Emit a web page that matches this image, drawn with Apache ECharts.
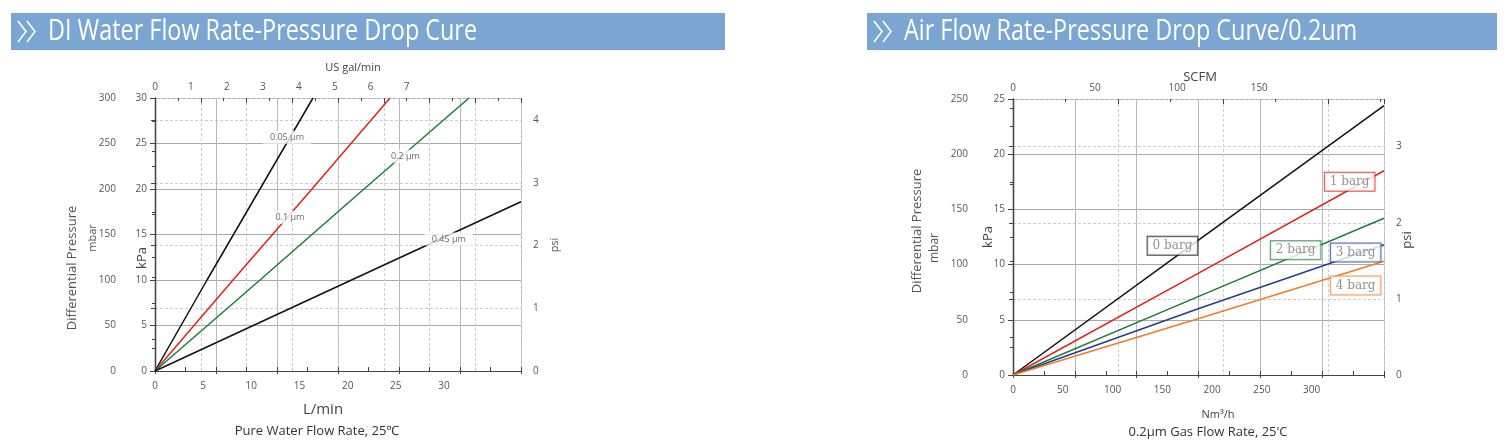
<!DOCTYPE html>
<html>
<head>
<meta charset="utf-8">
<title>Flow rate - pressure drop curves</title>
<script src="https://cdn.jsdelivr.net/npm/echarts@6/dist/echarts.min.js"></script>
<style>
  html, body { margin: 0; padding: 0; background: #fff; }
  #chart { width: 1507px; height: 442px; }
</style>
</head>
<body>
<div id="chart"></div>
<script>
// ---- DI water: pressure drop (kPa) against flow (L/min), per pore size ----
const water005 = [[0, 0], [5.4, 10], [10.9, 20], [16.4, 30]];
const water01 = [[0, 0], [8.1, 10], [16.3, 20], [24.4, 30]];
const water02 = [[0, 0], [10.9, 10], [21.7, 20], [32.6, 30]];
const water045 = [[0, 0], [20.4, 10], [38, 18.6]];
const waterNames = ['0.05 µm', '0.1 µm', '0.2 µm', '0.45 µm'];

// ---- air, 0.2 µm: pressure drop (kPa) against flow (Nm3/h), per inlet pressure ----
const air0 = [[0, 0], [186, 12.2], [372.7, 24.4]];
const air1 = [[0, 0], [186, 9.2], [372.7, 18.5]];
const air2 = [[0, 0], [186, 7.1], [372.7, 14.2]];
const air3 = [[0, 0], [186, 6.0], [372.7, 11.8]];
const air4 = [[0, 0], [186, 5.1], [372.7, 10.3]];
const airNames = ['0 barg', '1 barg', '2 barg', '3 barg', '4 barg'];

// axis ranges as printed
const waterLpmMax = 38;     // L/min at right edge
const waterGpmMax = 10.18;  // same edge in US gal/min
const waterKpaMax = 30;
const airNm3Max = 372.7;    // Nm3/h at right edge
const airScfmMax = 226;     // same edge in SCFM
const airKpaMax = 25;
const KPA_PER_PSI = 6.895;

const FONT = "'Open Sans', 'Noto Sans', sans-serif";
const INK = '#444';
const TICK_TEXT = { color: '#555', fontSize: 10, fontFamily: FONT };
const frameLine = { show: true, lineStyle: { color: INK, width: 1.2 } };
const tickStyle = { color: INK, width: 1 };

// only whole numbers up to `last` get a label (hides the odd end value)
const intOnly = last => v => (Number.isInteger(v) && v <= last ? String(v) : '');

function plainAxis(extra) {
  return Object.assign({
    type: 'value', min: 0, interval: 1,
    axisLine: { show: false }, axisTick: { show: false },
    axisLabel: { show: false }, splitLine: { show: false }
  }, extra);
}

function xAxes(g, o) {
  return [
    plainAxis({ gridIndex: g, position: 'bottom', max: o.bottomMax, interval: o.bottomStep,
      axisLine: frameLine,
      axisLabel: { ...TICK_TEXT, margin: 10, formatter: intOnly(o.bottomLast) } }),
    plainAxis({ gridIndex: g, position: 'top', max: o.topMax, interval: o.topStep,
      axisLine: frameLine,
      axisLabel: { ...TICK_TEXT, margin: 6, formatter: intOnly(o.topLast) } }),
    // small bottom ticks, twelve across
    plainAxis({ gridIndex: g, position: 'bottom', max: 12,
      axisTick: { show: true, inside: true, length: 4, lineStyle: tickStyle } }),
    // solid vertical grid, six across
    plainAxis({ gridIndex: g, position: 'bottom', max: 6,
      axisTick: { show: true, length: 3, lineStyle: tickStyle },
      splitLine: { show: true, lineStyle: { color: '#b8b8b8', width: 1 } } }),
    // dashed vertical grid
    plainAxis({ gridIndex: g, position: 'top', max: o.dashMax,
      axisTick: { show: true, inside: true, length: 5, lineStyle: tickStyle },
      splitLine: { show: true, lineStyle: { color: '#cdcdcd', type: [3, 2] } } }),
    plainAxis({ gridIndex: g, position: 'top', max: o.topTicks,
      axisTick: { show: true, inside: true, length: 3, lineStyle: tickStyle } })
  ];
}

function yAxes(g, o) {
  return [
    plainAxis({ gridIndex: g, position: 'left', max: o.kpaMax, interval: 5,
      axisLine: frameLine,
      axisTick: { show: true, length: 5, lineStyle: tickStyle },
      minorTick: { show: true, splitNumber: 2, length: 3, lineStyle: tickStyle },
      axisLabel: { ...TICK_TEXT, margin: 8, formatter: intOnly(o.kpaMax) },
      splitLine: { show: true, lineStyle: { color: '#aaa', width: 1 } } }),
    plainAxis({ gridIndex: g, position: 'left', offset: o.mbarOffset, max: o.kpaMax * 10, interval: 50,
      axisLine: frameLine,
      axisTick: { show: true, length: 4, lineStyle: tickStyle },
      minorTick: { show: true, splitNumber: 2, length: 3, lineStyle: tickStyle },
      axisLabel: { ...TICK_TEXT, margin: 9, formatter: intOnly(1000) } }),
    plainAxis({ gridIndex: g, position: 'right', max: o.kpaMax / KPA_PER_PSI, interval: 1,
      axisLine: frameLine,
      axisTick: { show: true, inside: true, length: 4, lineStyle: tickStyle },
      minorTick: { show: true, splitNumber: 2, length: 3, lineStyle: tickStyle },
      axisLabel: { ...TICK_TEXT, margin: 12, formatter: intOnly(10) },
      splitLine: { show: true, lineStyle: { color: '#cdcdcd', type: [3, 2] } } })
  ];
}

function curve(name, data, color, xi, yi) {
  return {
    type: 'line', name, data, xAxisIndex: xi, yAxisIndex: yi,
    showSymbol: false, symbol: 'none', silent: true, z: 3,
    lineStyle: { color, width: 1.5 }
  };
}

function text(str, x, y, size, extra, fill) {
  return Object.assign({
    type: 'text', x, y, silent: true,
    style: { text: str, fill: fill || '#444', font: size + 'px ' + FONT, align: 'center', verticalAlign: 'middle' }
  }, extra);
}
const upright = { rotation: Math.PI / 2 };

function header(x, w, title) {
  const chev = (dx) => ({
    type: 'polyline', silent: true,
    shape: { points: [[x + 7 + dx, 21], [x + 15 + dx, 31.5], [x + 7 + dx, 42]] },
    style: { stroke: '#fff', lineWidth: 1.6, fill: null }
  });
  return [
    { type: 'rect', silent: true, shape: { x, y: 13, width: w, height: 37 }, style: { fill: '#7ba6d2' } },
    chev(0), chev(9),
    { type: 'text', silent: true, x: x + 37, y: 31, scaleX: 0.78,
      style: { text: title, fill: '#fff', font: '30px ' + FONT, align: 'left', verticalAlign: 'middle' } }
  ];
}

const waterTagAt = [[13.7, 25.7], [14.0, 16.9], [26.0, 23.6], [30.5, 14.5]];
const airTagAt = [[160.2, 11.7], [338.2, 17.5], [283.9, 11.3], [344.2, 11.1], [344.2, 8.1]];
const waterColors = ['#111', '#e3211c', '#1d7d3a', '#111'];
const airColors = ['#111', '#e3211c', '#1d7d3a', '#223f8e', '#f07c28'];

const option = {
  animation: false,
  backgroundColor: '#fff',
  grid: [
    { left: 155, top: 98, width: 366, height: 273, containLabel: false, outerBoundsMode: 'none' },
    { left: 1013, top: 99, width: 371, height: 276, containLabel: false, outerBoundsMode: 'none' }
  ],
  xAxis: [
    ...xAxes(0, { bottomMax: waterLpmMax, bottomStep: 5, bottomLast: 30,
      topMax: waterGpmMax, topStep: 1, topLast: 7, dashMax: 8, topTicks: 16 }),
    ...xAxes(1, { bottomMax: airNm3Max, bottomStep: 50, bottomLast: 300,
      topMax: airScfmMax, topStep: 50, topLast: 150, dashMax: 3.53, topTicks: 7.07 })
  ],
  yAxis: [
    ...yAxes(0, { kpaMax: waterKpaMax, mbarOffset: 30 }),
    ...yAxes(1, { kpaMax: airKpaMax, mbarOffset: 36 })
  ],
  series: [
    curve(waterNames[0], water005, waterColors[0], 0, 0),
    curve(waterNames[1], water01, waterColors[1], 0, 0),
    curve(waterNames[2], water02, waterColors[2], 0, 0),
    curve(waterNames[3], water045, waterColors[3], 0, 0),
    {
      type: 'scatter', xAxisIndex: 0, yAxisIndex: 0, symbolSize: 1, z: 10, silent: true,
      itemStyle: { color: 'rgba(0,0,0,0)' },
      label: { show: true, position: 'inside', formatter: '{b}', color: '#444', fontSize: 9,
        fontFamily: FONT, backgroundColor: '#fff', padding: [2, 7] },
      data: waterNames.map((n, i) => ({ name: n, value: waterTagAt[i] }))
    },
    curve(airNames[0], air0, airColors[0], 6, 3),
    curve(airNames[1], air1, airColors[1], 6, 3),
    curve(airNames[2], air2, airColors[2], 6, 3),
    curve(airNames[3], air3, airColors[3], 6, 3),
    curve(airNames[4], air4, airColors[4], 6, 3),
    {
      type: 'scatter', xAxisIndex: 6, yAxisIndex: 3, symbolSize: 1, z: 10, silent: true,
      itemStyle: { color: 'rgba(0,0,0,0)' },
      label: { show: true, position: 'inside', formatter: '{b}', color: '#777', fontSize: 12,
        fontFamily: "'DejaVu Serif', 'Liberation Serif', serif", backgroundColor: '#fff',
        borderWidth: 1, padding: [3, 5] },
      data: airNames.map((n, i) => ({ name: n, value: airTagAt[i], label: { borderColor: airColors[i] } }))
    }
  ],
  graphic: [
    ...header(11, 714, 'DI Water Flow Rate-Pressure Drop Cure'),
    ...header(867, 630, 'Air Flow Rate-Pressure Drop Curve/0.2um'),
    // water chart captions
    text('US gal/min', 353, 68, 11),
    text('L/min', 323, 410, 15),
    text('Pure Water Flow Rate, 25℃', 317, 431, 13, null, '#333'),
    text('Differential Pressure', 72, 268, 13, upright, '#555'),
    text('mbar', 93, 238, 11, upright, '#555'),
    text('kPa', 142, 258, 13, upright),
    text('psi', 555, 245, 11, upright, '#555'),
    // air chart captions
    text('SCFM', 1200, 77, 13),
    text('Nm³/h', 1218, 415, 11),
    text("0.2µm Gas Flow Rate, 25'C", 1208, 432, 13, null, '#333'),
    text('Differential Pressure', 917, 231, 13, upright, '#555'),
    text('mbar', 935, 248, 12, upright, '#555'),
    text('kPa', 988, 237, 13, upright),
    text('psi', 1407, 240, 13, upright)
  ]
};

const chart = echarts.init(document.getElementById('chart'), null, { renderer: 'canvas' });
chart.setOption(option);
</script>
</body>
</html>
